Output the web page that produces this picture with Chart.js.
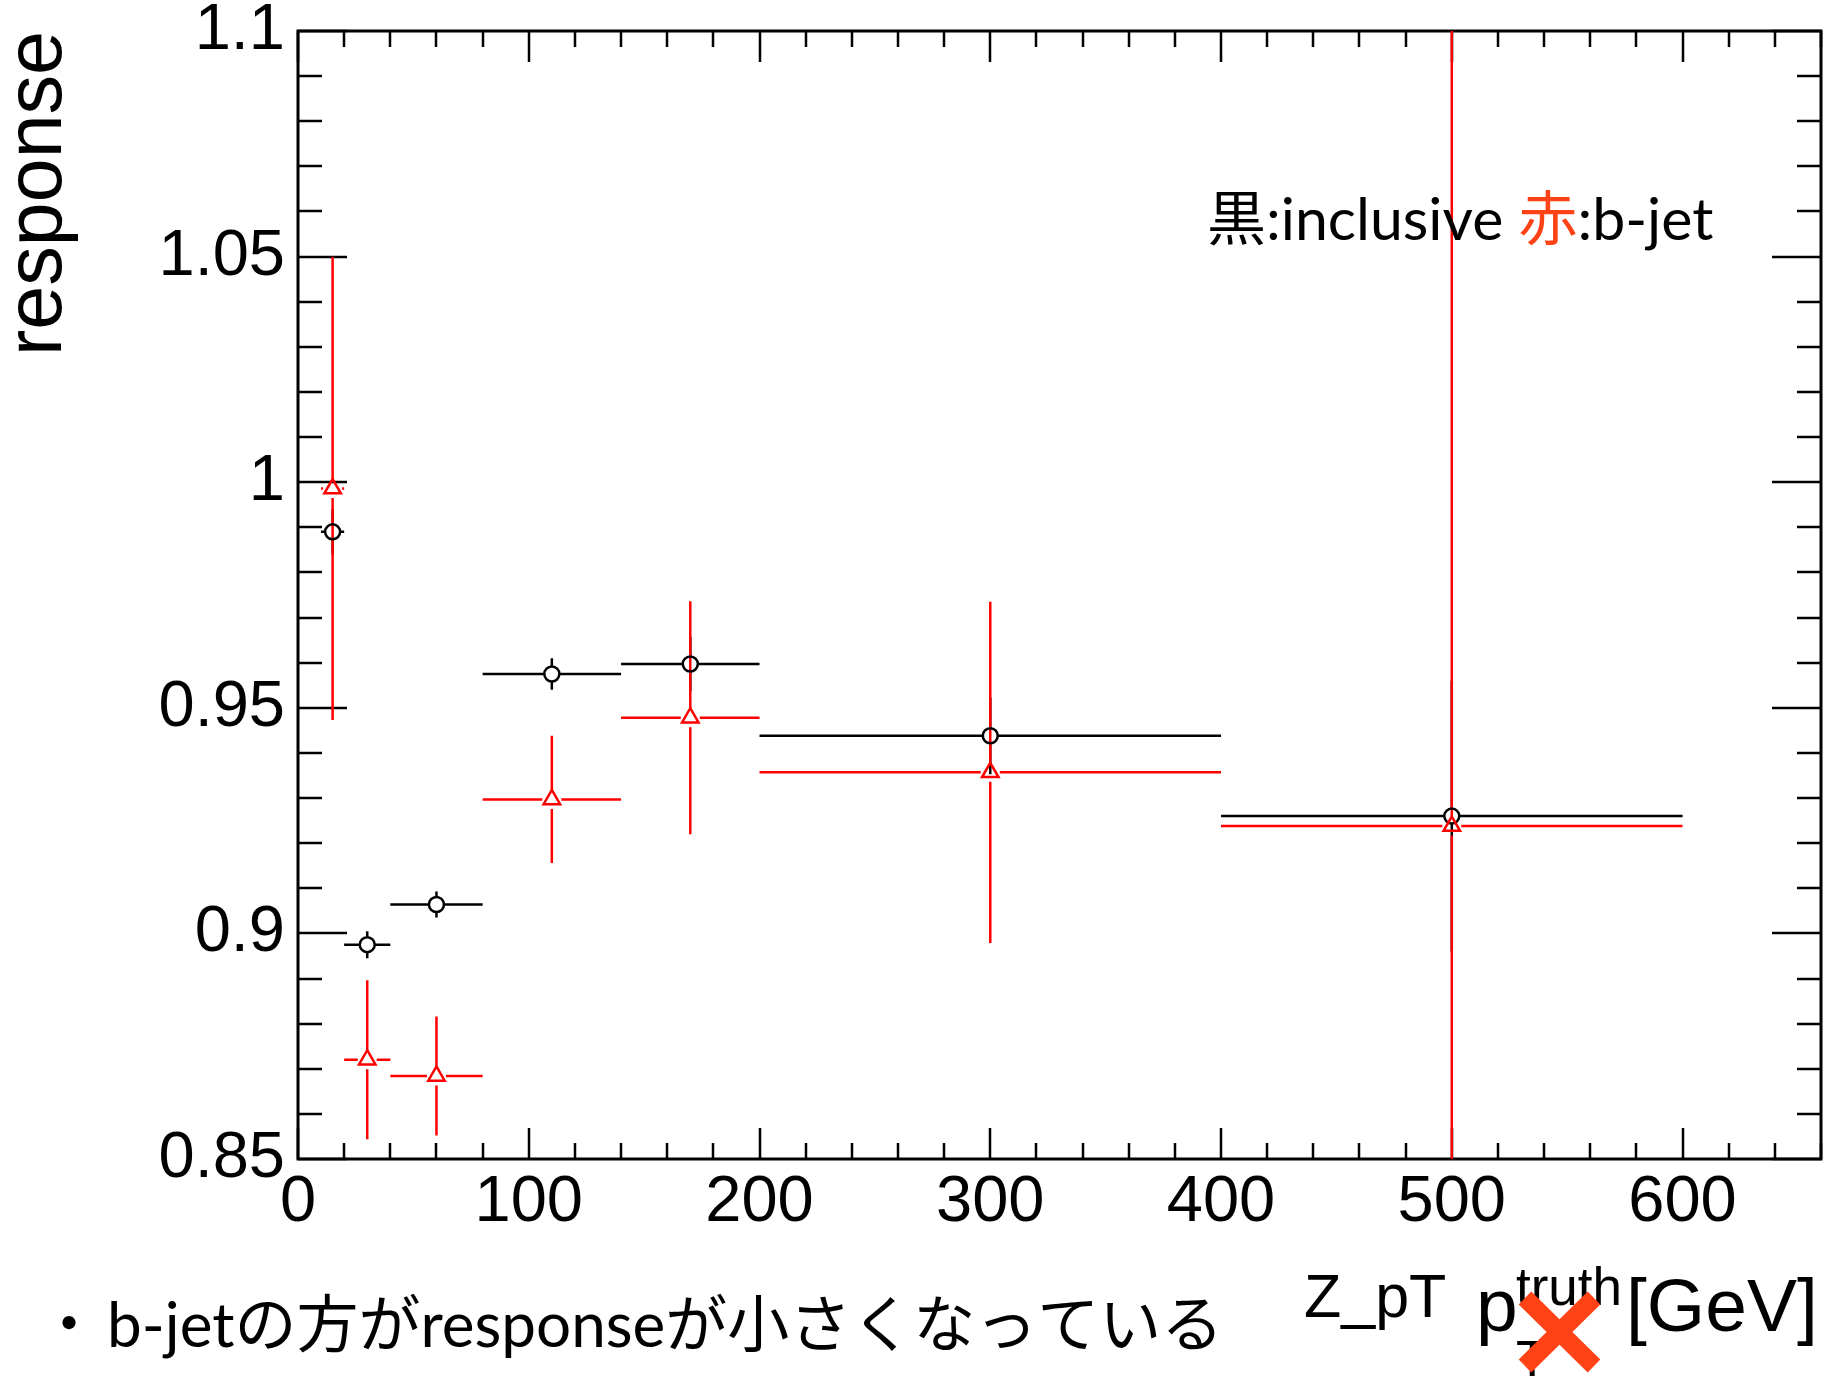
<!DOCTYPE html>
<html>
<head>
<meta charset="utf-8">
<script src="https://cdn.jsdelivr.net/npm/chart.js@4.4.1/dist/chart.umd.min.js"></script>
<style>
    html, body { margin: 0; padding: 0; background: #fff; }
    #wrap { width: 1825px; height: 1376px; }
</style>
</head>
<body>
<div id="wrap"><canvas id="c" width="1825" height="1376"></canvas></div>
<script>
// bins in Z pT (GeV)
const binLow  = [10, 20, 40, 80, 140, 200, 400];
const binHigh = [20, 40, 80, 140, 200, 400, 600];
const binMid  = [15, 30, 60, 110, 170, 300, 500];

// black : inclusive
const inclusiveY   = [0.989, 0.8975, 0.9064, 0.9575, 0.9597, 0.9438, 0.926];
const inclusiveErr = [0.005, 0.003, 0.0029, 0.0035, 0.006, 0.0085, 0.03];

// red : b-jet
const bjetY   = [0.9986, 0.872, 0.8684, 0.9297, 0.9478, 0.9357, 0.9238];
const bjetErr = [0.0513, 0.0176, 0.0132, 0.0141, 0.0258, 0.0378, 0.3];

const xMajor = 100, xMinor = 20;
const yMajor = 0.05, yMinor = 0.01;

const isMajorX = v => Math.abs(v / xMajor - Math.round(v / xMajor)) < 1e-6;
const isMajorY = v => Math.abs(v / yMajor - Math.round(v / yMajor)) < 1e-6;

Chart.defaults.font.family = '"Liberation Sans", Arial, sans-serif';
Chart.defaults.color = '#000';

function makeSet(label, ys, errs, color, style, radius, order) {
    return {
        label: label,
        data: binMid.map((x, i) => ({ x: x, y: ys[i] })),
        errY: errs,
        showLine: false,
        pointStyle: style,
        pointRadius: radius,
        pointHoverRadius: radius,
        pointBorderWidth: 2.5,
        pointBorderColor: color,
        pointBackgroundColor: 'rgba(0,0,0,0)',
        borderColor: color,
        order: order
    };
}

// frame + inward ticks on all four sides (ROOT style)
const frameTicks = {
    id: 'frameTicks',
    beforeDatasetsDraw(chart) {
        const ctx = chart.ctx, a = chart.chartArea;
        const xs = chart.scales.x, ys = chart.scales.y;
        ctx.save();
        ctx.strokeStyle = '#000';
        ctx.lineWidth = 2.5;
        ctx.beginPath();
        xs.ticks.forEach(t => {
            const px = Math.round(xs.getPixelForValue(t.value));
            const len = isMajorX(t.value) ? 31 : 16;
            ctx.moveTo(px, a.bottom); ctx.lineTo(px, a.bottom - len);
            ctx.moveTo(px, a.top); ctx.lineTo(px, a.top + len);
        });
        ys.ticks.forEach(t => {
            const py = Math.round(ys.getPixelForValue(t.value));
            const len = isMajorY(t.value) ? 49 : 24;
            ctx.moveTo(a.left, py); ctx.lineTo(a.left + len, py);
            ctx.moveTo(a.right, py); ctx.lineTo(a.right - len, py);
        });
        ctx.stroke();
        ctx.lineWidth = 3;
        ctx.strokeRect(a.left, a.top, a.right - a.left, a.bottom - a.top);
        ctx.restore();
    }
};

// x error = bin width, y error = stat error, with a gap for the marker
const errorBars = {
    id: 'errorBars',
    beforeDatasetsDraw(chart) {
        const ctx = chart.ctx, a = chart.chartArea;
        const xs = chart.scales.x, ys = chart.scales.y;
        ctx.save();
        ctx.beginPath();
        ctx.rect(a.left, a.top, a.right - a.left, a.bottom - a.top);
        ctx.clip();
        chart.data.datasets.forEach(ds => {
            ctx.strokeStyle = ds.pointBorderColor;
            ctx.lineWidth = 2.5;
            const gap = ds.pointRadius;
            ds.data.forEach((p, i) => {
                const px = xs.getPixelForValue(p.x);
                const py = ys.getPixelForValue(p.y);
                const xl = xs.getPixelForValue(binLow[i]);
                const xr = xs.getPixelForValue(binHigh[i]);
                const yt = ys.getPixelForValue(p.y + ds.errY[i]);
                const yb = ys.getPixelForValue(p.y - ds.errY[i]);
                ctx.beginPath();
                ctx.moveTo(xl, py); ctx.lineTo(px - gap, py);
                ctx.moveTo(px + gap, py); ctx.lineTo(xr, py);
                if (yt < py - gap) {
                    ctx.moveTo(px, yt); ctx.lineTo(px, py - gap);
                    ctx.moveTo(px, py + gap); ctx.lineTo(px, yb);
                }
                ctx.stroke();
            });
        });
        ctx.restore();
    }
};

// axis titles and slide annotations
const annotations = {
    id: 'annotations',
    afterDraw(chart) {
        const ctx = chart.ctx;
        ctx.save();
        ctx.fillStyle = '#000';
        ctx.textBaseline = 'alphabetic';

        // y title
        ctx.save();
        ctx.translate(61, 31);
        ctx.rotate(-Math.PI / 2);
        ctx.textAlign = 'right';
        ctx.font = '79px "Liberation Sans", Arial, sans-serif';
        ctx.fillText('response', 0, 0);
        ctx.restore();

        ctx.textAlign = 'left';

        // x title
        ctx.font = '61px "Liberation Sans", Arial, sans-serif';
        ctx.fillText('Z_pT', 1304, 1317);
        ctx.font = '75px "Liberation Sans", Arial, sans-serif';
        ctx.fillText('p', 1476, 1331);
        ctx.font = '53px "Liberation Sans", Arial, sans-serif';
        ctx.fillText('truth', 1516, 1305);
        ctx.fillText('T', 1516, 1378);
        ctx.font = '75px "Liberation Sans", Arial, sans-serif';
        ctx.fillText('[GeV]', 1626, 1331);

        // red cross drawn over the subscript
        ctx.strokeStyle = '#ff4316';
        ctx.lineWidth = 18;
        ctx.lineCap = 'butt';
        ctx.beginPath();
        ctx.moveTo(1525, 1298); ctx.lineTo(1594, 1366);
        ctx.moveTo(1594, 1298); ctx.lineTo(1525, 1366);
        ctx.stroke();

        // legend
        ctx.font = '59px Lato, "Noto Sans CJK JP", sans-serif';
        let x = 1207;
        const parts = [['黒:inclusive ', '#000'], ['赤', '#ff4316'], [':b-jet', '#000']];
        parts.forEach(([s, c]) => {
            ctx.fillStyle = c;
            ctx.fillText(s, x, 240);
            x += ctx.measureText(s).width;
        });

        // note below the chart
        ctx.fillStyle = '#000';
        ctx.font = '62px Lato, "Noto Sans CJK JP", sans-serif';
        ctx.textAlign = 'center';
        ctx.fillText('・', 69, 1347);
        ctx.textAlign = 'left';
        ctx.fillText('b-jetの方がresponseが小さくなっている', 107, 1347);
        ctx.restore();
    }
};

new Chart(document.getElementById('c'), {
    type: 'scatter',
    data: {
        datasets: [
            makeSet('inclusive', inclusiveY, inclusiveErr, '#000000', 'circle', 7.5, 1),
            makeSet('b-jet', bjetY, bjetErr, '#ff0000', 'triangle', 9.5, 0)
        ]
    },
    options: {
        responsive: false,
        animation: false,
        devicePixelRatio: 1,
        layout: { autoPadding: false, padding: { top: 31, right: 4, left: 0, bottom: 0 } },
        plugins: {
            legend: { display: false },
            tooltip: { enabled: false }
        },
        scales: {
            x: {
                type: 'linear',
                min: 0,
                max: 660,
                grid: { display: false },
                border: { display: false },
                ticks: {
                    stepSize: xMinor,
                    autoSkip: false,
                    maxRotation: 0,
                    padding: -3,
                    font: { size: 65 },
                    callback: v => isMajorX(v) ? String(v) : ''
                },
                afterFit: s => {
                    s.height = 217;
                    s.paddingLeft = 0;
                    s.paddingRight = 0;
                }
            },
            y: {
                type: 'linear',
                min: 0.85,
                max: 1.1,
                grid: { display: false },
                border: { display: false },
                ticks: {
                    stepSize: yMinor,
                    autoSkip: false,
                    padding: 5,
                    font: { size: 65 },
                    callback: v => isMajorY(v) ? String(+v.toFixed(2)) : ''
                },
                afterFit: s => {
                    s.width = 298;
                    s.paddingTop = 0;
                    s.paddingBottom = 0;
                }
            }
        }
    },
    plugins: [frameTicks, errorBars, annotations]
});
</script>
</body>
</html>
